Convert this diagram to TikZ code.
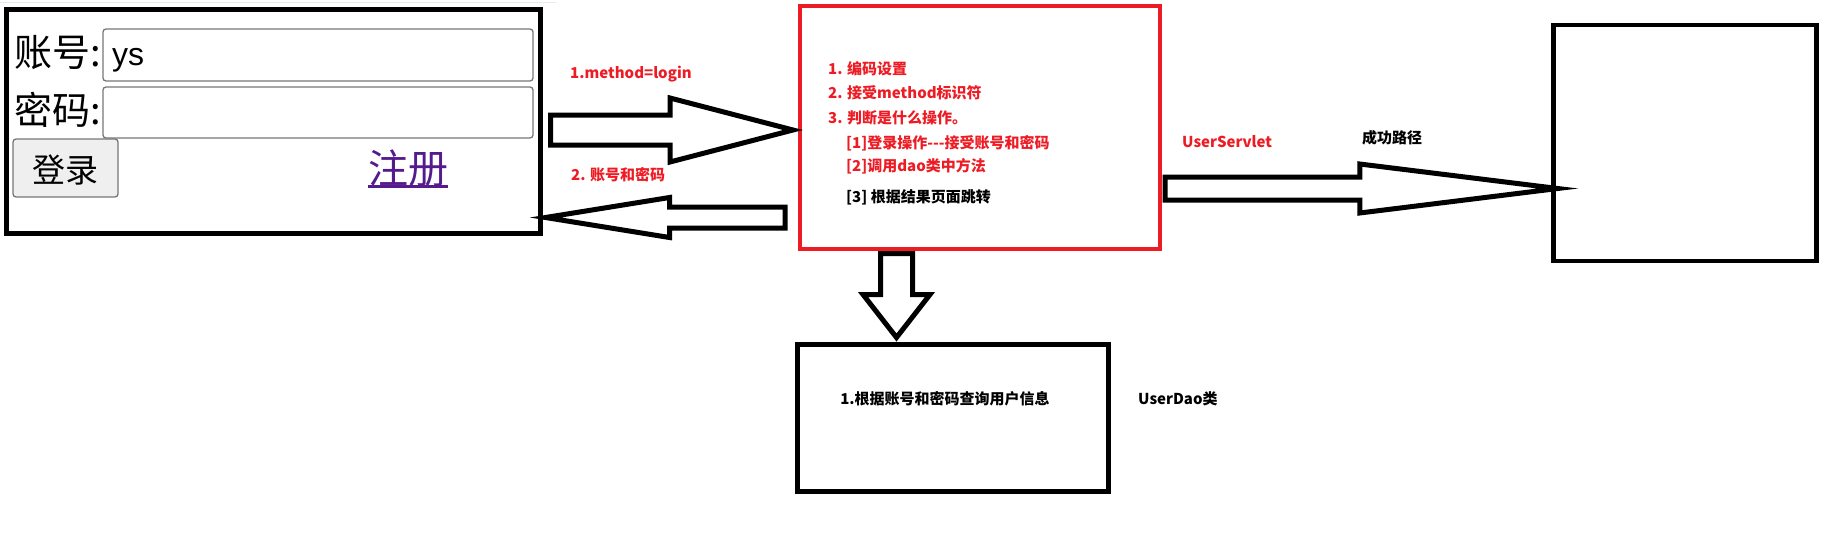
\documentclass[tikz,border=0pt]{standalone}
\usepackage{fontspec}
\usetikzlibrary{calc}
\newfontfamily\cjk{Noto Sans CJK SC}
\newfontfamily\arialfont{Liberation Sans}
\definecolor{paintred}{HTML}{ED1C24}
\definecolor{formgray}{HTML}{767676}
\definecolor{btnfill}{HTML}{EFEFEF}
\definecolor{linkpurple}{HTML}{551A8B}
\definecolor{edgeline}{HTML}{E3ECEE}

\tikzset{
  box/.style={draw, line width=5pt, inner sep=0pt},
  redbox/.style={draw=paintred, line width=4pt, inner sep=0pt},
  field/.style={draw=formgray, line width=1.3pt, rounded corners=3pt, inner sep=0pt},
  formtext/.style={inner sep=0pt, font=\cjk\fontsize{#1}{#1}\selectfont,
    text height=0.88*#1pt, text depth=0.12*#1pt},
  note/.style={font=\cjk\bfseries\fontsize{15}{18}\selectfont, inner sep=0pt,
    text height=13.2pt, text depth=1.8pt},
  fatarrow/.style={draw, line width=5pt, fill=white},
}

% tail, tip, shaft half width, head half width, head length
\newcommand\blockarrow[5]{%
  \coordinate (ba) at ($(#2)!#5!(#1)$);
  \draw[fatarrow] ($(#1)!#3!90:(#2)$) -- ($(ba)!#3!90:(#2)$) -- ($(ba)!#4!90:(#2)$)
    -- (#2) -- ($(ba)!#4!-90:(#2)$) -- ($(ba)!#3!-90:(#2)$) -- ($(#1)!#3!-90:(#2)$) -- cycle;}

\begin{document}
\begin{tikzpicture}[x=1pt, y=-1pt]
  \useasboundingbox (0,0) rectangle (1834,543);

  % ---------- login page ----------
  \draw[edgeline, line width=1pt] (0,3) -- (556,3);
  \node[box, minimum width=534pt, minimum height=223.5pt] (login) at (273,121.25) {};
  \node[field, minimum width=430pt, minimum height=52pt] (user) at (318,55) {};
  \node[field, minimum width=430pt, minimum height=51pt] (pwd) at (318,112.5) {};
  \node[formtext=38, anchor=east] (userlbl) at (101,52.5) {账号:};
  \node[formtext=38, anchor=east] (pwdlbl) at (101,110) {密码:};
  \node[inner sep=0pt, font=\arialfont\fontsize{32}{36}\selectfont, anchor=base west] (uservalue) at (112,66) {ys};
  \node[draw=formgray, fill=btnfill, rounded corners=3pt, line width=1.3pt, formtext=33,
    minimum width=105pt, minimum height=58pt] (btn) at (65.5,168) {};
  \node[formtext=33] (btntxt) at (65.5,170) {登录};
  \node[formtext=40, text=linkpurple, anchor=west] (reg) at (368,168) {注册};
  \draw[linkpurple, line width=3pt] ($(reg.south west)+(0,-1.5)$) -- ($(reg.south east)+(0,-1.5)$);

  % ---------- servlet ----------
  \node[redbox, minimum width=360.5pt, minimum height=243pt] (srv) at (979.75,127.5) {};
  \node[note, text=paintred, anchor=west] (s1) at (828,69) {1. 编码设置};
  \node[note, text=paintred, anchor=west] (s2) at (828,93) {2. 接受method标识符};
  \node[note, text=paintred, anchor=west] (s3) at (828,118) {3. 判断是什么操作。};
  \node[note, text=paintred, anchor=west] (s4) at (846,143) {[1]登录操作---接受账号和密码};
  \node[note, text=paintred, anchor=west] (s5) at (846,166) {[2]调用dao类中方法};
  \node[note, anchor=west] (s6) at (846,197) {[3] 根据结果页面跳转};
  \node[note, text=paintred, anchor=west] (srvname) at (1182,142) {UserServlet};

  % ---------- dao and result page ----------
  \node[box, minimum width=311pt, minimum height=147pt] (dao) at (952.5,417.5) {};
  \node[note] (daotxt) at (945,399) {1.根据账号和密码查询用户信息};
  \node[note, anchor=west] (daoname) at (1138,399) {UserDao类};
  \node[box, line width=4.5pt, minimum width=263pt, minimum height=236pt] (page) at (1685,143) {};

  % ---------- block arrows ----------
  \path (login.east) ++(8,8.75) coordinate (reqTail);
  \path (srv.west) ++(-4.5,2.5) coordinate (reqTip);
  \path (srv.west) ++(-12.5,90) coordinate (respTail);
  \path (login.east) ++(3,96.25) coordinate (respTip);
  \path (srv.east) ++(3,61) coordinate (okTail);
  \path (page.west) ++(6.5,45.5) coordinate (okTip);
  \path (srv.south) ++(-83.25,2.5) coordinate (daoTail);
  \path (dao.north) ++(-56,-4) coordinate (daoTip);

  \blockarrow{reqTail}{reqTip}{15pt}{32pt}{123pt}
  \blockarrow{respTail}{respTip}{10.5pt}{20pt}{124pt}
  \blockarrow{okTail}{okTip}{11.5pt}{24.5pt}{198pt}
  \blockarrow{daoTail}{daoTip}{16pt}{33.5pt}{43pt}

  \node[note, text=paintred, anchor=west] (reqlbl) at (570,73) {1.method=login};
  \node[note, text=paintred, anchor=west] (resplbl) at (571,175) {2. 账号和密码};
  \node[note, anchor=west] (oklbl) at (1362,138) {成功路径};
\end{tikzpicture}
\end{document}
